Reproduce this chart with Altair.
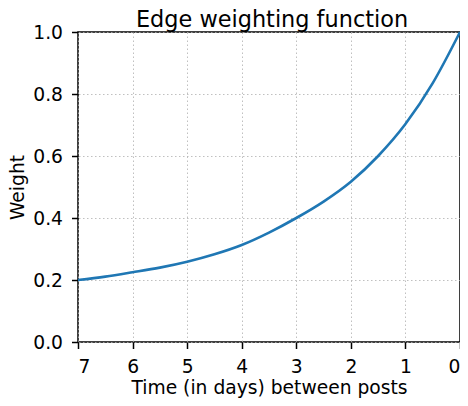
import altair as alt
import pandas as pd

days = [0, 0.5, 1, 1.5, 2, 2.5, 3, 3.5, 4, 4.5, 5, 5.5, 6, 6.5, 7]
weights = [1.0, 0.835, 0.703, 0.600, 0.517, 0.453, 0.400, 0.353, 0.313, 0.283, 0.259, 0.240, 0.225, 0.211, 0.2]
x_ticks = [0, 1, 2, 3, 4, 5, 6, 7]
y_ticks = [0.0, 0.2, 0.4, 0.6, 0.8, 1.0]

df = pd.DataFrame({"days": days, "weight": weights})

FONT = "DejaVu Sans"

chart = alt.Chart(df).mark_line(
    color="#1f77b4", strokeWidth=2.6, interpolate="monotone"
).encode(
    x=alt.X(
        "days:Q",
        scale=alt.Scale(domain=[0, 7], reverse=True, nice=False, zero=False),
        axis=alt.Axis(
            values=x_ticks, format="d", title="Time (in days) between posts",
        ),
    ),
    y=alt.Y(
        "weight:Q",
        scale=alt.Scale(domain=[0, 1], nice=False),
        axis=alt.Axis(values=y_ticks, format=".1f", title="Weight"),
    ),
).properties(
    width=382,
    height=310,
    title=alt.TitleParams(
        "Edge weighting function", font=FONT, fontSize=22.4,
        fontWeight="normal", color="black", offset=0, dy=8, dx=3,
    ),
    autosize=alt.AutoSizeParams(type="none"),
    padding={"left": 70, "top": 24, "right": 0, "bottom": 56},
).configure_view(
    stroke="black", strokeWidth=1.5
).configure_axis(
    labelFont=FONT, labelFontSize=18.7, labelColor="black",
    titleFont=FONT, titleFontSize=18.7, titleColor="black", titleFontWeight="normal",
    tickSize=6.5, tickWidth=1.5, tickColor="black",
    domain=False,
    grid=True, gridColor="#b0b0b0", gridDash=[1.5, 2.5], gridWidth=1, gridOpacity=0.8,
).configure_axisX(
    labelPadding=9,
    titlePadding=2,
).configure_axisY(
    labelPadding=9,
    titlePadding=5,
)

chart.save("out.html", embed_options={"renderer": "svg", "actions": False})
